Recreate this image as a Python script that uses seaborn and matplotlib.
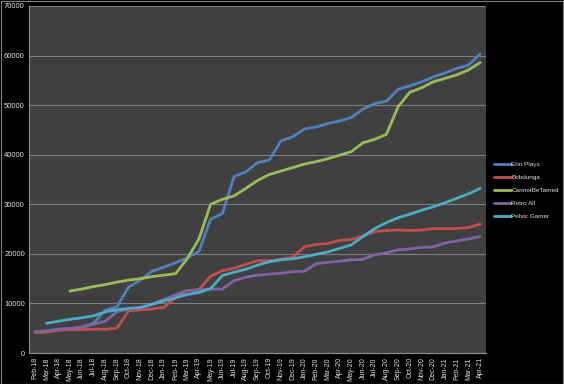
import numpy as np
import pandas as pd
import matplotlib
matplotlib.use("Agg")
import matplotlib.pyplot as plt
import seaborn as sns

# month labels, Feb-18 .. Apr-21
MONTHS = pd.date_range("2018-02-01", "2021-04-01", freq="MS").strftime("%b-%y").tolist()

erin_plays = [4200, 4300, 4700, 4900, 5200, 6000, 8600, 9300, 13300, 14700,
              16500, 17300, 18200, 19200, 20500, 27000, 28100, 35600, 36500, 38400,
              38900, 42800, 43600, 45200, 45600, 46300, 46800, 47500, 49200, 50300,
              50800, 53200, 53900, 54700, 55700, 56500, 57400, 58100, 60300]
bobdunga = [4100, 4200, 4600, 4700, 4700, 4800, 4800, 5000, 8500, 8700,
            8900, 9200, 11200, 12600, 12800, 15500, 16600, 17100, 17900, 18600,
            18600, 18900, 19300, 21400, 21900, 22100, 22700, 22900, 23600, 24500,
            24700, 24800, 24700, 24800, 25100, 25100, 25100, 25300, 26000]
cannot_be_tamed = [np.nan, np.nan, np.nan, 12500, 12900, 13400, 13800, 14300, 14700, 15000,
                   15400, 15700, 16000, 19000, 23000, 30000, 31000, 31700, 33200, 34800,
                   36000, 36700, 37400, 38100, 38600, 39200, 39900, 40600, 42400, 43100,
                   44100, 49700, 52600, 53500, 54700, 55400, 56100, 57100, 58600]
retro_all = [4300, 4500, 4800, 4900, 5200, 5800, 6400, 8300, 8900, 9100,
             9900, 10800, 11700, 12600, 12700, 12900, 12900, 14600, 15300, 15700,
             15900, 16100, 16400, 16500, 18000, 18300, 18500, 18800, 18900, 19800,
             20200, 20800, 21000, 21300, 21400, 22200, 22600, 23000, 23500]
pelvic_gamer = [np.nan, 6000, 6400, 6800, 7100, 7500, 8300, 8700, 9000, 9200,
                9800, 10500, 11100, 11800, 12200, 13000, 15600, 16300, 16900, 17700,
                18400, 18800, 19000, 19400, 19900, 20400, 21100, 21800, 23500, 25100,
                26300, 27300, 28000, 28800, 29500, 30300, 31200, 32100, 33200]

SERIES = ["Erin Plays", "Bobdunga", "CannotBeTamed", "Retro All", "Pelvic Gamer"]
COLORS = ["#4F81BD", "#C0504D", "#9BBB59", "#8064A2", "#4BACC6"]

df = pd.DataFrame({
    "month": MONTHS,
    "Erin Plays": erin_plays,
    "Bobdunga": bobdunga,
    "CannotBeTamed": cannot_be_tamed,
    "Retro All": retro_all,
    "Pelvic Gamer": pelvic_gamer,
})
df["idx"] = np.arange(len(df))
long = df.melt(id_vars=["month", "idx"], value_vars=SERIES,
               var_name="channel", value_name="subs").dropna()

sns.set_theme(style="dark")
plt.rcParams["font.family"] = ["Liberation Sans", "DejaVu Sans"]

fig = plt.figure(figsize=(5.64, 3.84), dpi=100, facecolor="black")
ax = fig.add_axes([29 / 564, 1 - 353 / 384, (486 - 29) / 564, (353 - 6) / 384])
ax.set_facecolor("#404040")

sns.lineplot(data=long, x="idx", y="subs", hue="channel", hue_order=SERIES,
             palette=COLORS, linewidth=2.0, ax=ax, legend=False)

ax.set_xlim(-0.5, len(MONTHS) - 0.5)
ax.set_ylim(0, 70000)
ax.set_yticks(np.arange(0, 70001, 10000))
ax.set_yticklabels([str(v) for v in range(0, 70001, 10000)], fontsize=5.5, color="#e0e0e0")
ax.set_xticks(np.arange(len(MONTHS)))
ax.set_xticklabels(MONTHS, rotation=90, fontsize=5.0, color="#e0e0e0")
ax.set_xticks(np.arange(-0.5, len(MONTHS)), minor=True)
ax.tick_params(axis="x", which="major", length=0, pad=3)
ax.tick_params(axis="x", which="minor", length=3, color="#909090", width=0.6)
ax.tick_params(axis="y", length=0, pad=3)
ax.grid(axis="y", color="#7f7f7f", linewidth=0.8)
ax.grid(axis="x", visible=False)
ax.set_xlabel("")
ax.set_ylabel("")
for side in ["top", "right"]:
    ax.spines[side].set_visible(False)
for side in ["left", "bottom"]:
    ax.spines[side].set_color("#909090")
    ax.spines[side].set_linewidth(0.8)

handles = [plt.Line2D([], [], color=c, linewidth=2.0) for c in COLORS]
leg = fig.legend(handles, SERIES, loc="upper left", bbox_to_anchor=(494 / 564, 1 - 162 / 384),
                 frameon=False, fontsize=4.6, handlelength=2.6, handletextpad=0.1,
                 labelspacing=1.15, borderpad=0, borderaxespad=0)
for t in leg.get_texts():
    t.set_color("#e0e0e0")

fig.patches.append(plt.Rectangle((0.001, 0.001), 0.997, 0.997, transform=fig.transFigure,
                                 fill=False, edgecolor="#808080", linewidth=0.8))

fig.savefig("out.png", dpi=100, facecolor="black")
